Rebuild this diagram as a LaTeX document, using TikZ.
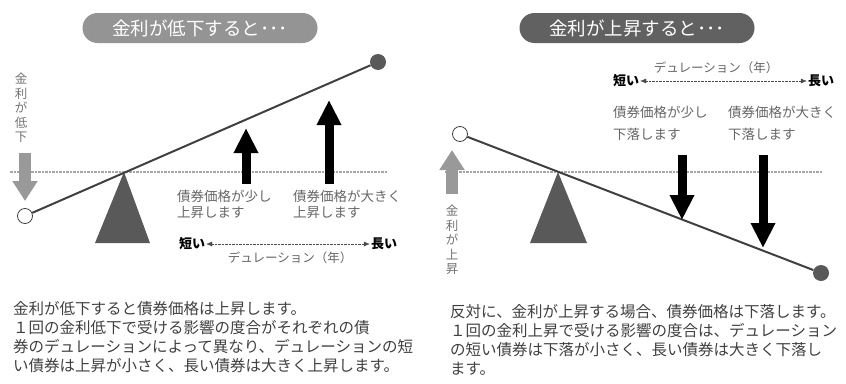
\documentclass[tikz,border=0pt]{standalone}
\usepackage{fontspec}
\newfontfamily\jp{Noto Sans CJK JP}
\usetikzlibrary{positioning,arrows.meta}
\tikzset{node distance=2pt, auto}
\tikzset{
  title/.style={rounded corners=15pt, fill=black!55, text=white, inner sep=0pt,
    minimum width=235pt, minimum height=30pt, font=\jp\fontsize{18.5}{18.5}\selectfont},
  lbl/.style={text=black!60, align=left, inner sep=0pt, anchor=north west,
    font=\jp\fontsize{13.5}{16}\selectfont},
  para/.style={text=black!75, align=left, inner sep=0pt, anchor=north west,
    font=\jp\fontsize{15.5}{19}\selectfont},
  vert/.style={text=black!55, align=center, inner sep=0pt,
    font=\jp\fontsize{12.5}{14.5}\selectfont},
  len/.style={inner sep=1pt, font=\jp\bfseries\fontsize{13}{13}\selectfont},
  dur/.style={text=black!60, inner sep=0pt, font=\jp\fontsize{12.5}{12.5}\selectfont},
  durarrow/.style={black!70, densely dotted, thin,
    {Latex[length=6pt,width=5pt]}-{Latex[length=6pt,width=5pt]}},
  base/.style={black!35, line width=2.5pt, densely dotted},
  beam/.style={black!75, line width=2pt},
  opendot/.style={circle, draw=black!75, thick, fill=white, minimum size=15pt, inner sep=0pt},
  fulldot/.style={circle, fill=black!65, minimum size=16pt, inner sep=0pt},
  fat/.style={line width=9pt, -{Triangle[length=25pt,width=23pt]}},
  rate/.style={black!40, line width=12pt, -{Triangle[length=20pt,width=24pt]}}
}

\begin{document}
\begin{tikzpicture}[x=1pt,y=-1pt]
  \useasboundingbox (0,0) rectangle (846,383);

  % left: rates fall
  \node (T1) [title, fill=black!42] at (200,28) {金利が低下すると･･･};
  \draw [base] (10,172) -- (388,172);
  \fill [black!65] (124,172) -- (95,243) -- (150,243) -- cycle;
  \node (O1) [opendot] at (25,216) {};
  \node (F1) [fulldot] at (378,62) {};
  \draw [beam] (O1) -- (F1);

  \node (V1) [vert] at (21,108) {金\\利\\が\\低\\下};
  \coordinate (R1) at (25,153);
  \coordinate (R1t) at (25,201);
  \draw [rate] (R1) -- (R1t);

  \coordinate (A1) at (246,184);
  \coordinate (A1t) at (246,128);
  \coordinate (A2) at (329,184);
  \coordinate (A2t) at (329,100);
  \draw [fat] (A1) -- (A1t);
  \draw [fat] (A2) -- (A2t);

  \node (L1) [lbl] at (177,190) {債券価格が少し\\上昇します};
  \node (L2) [lbl] at (293,190) {債券価格が大きく\\上昇します};

  \node (S1) [len] at (192,244) {短い};
  \node (G1) [len] at (384,244) {長い};
  \draw [durarrow] (S1) -- (G1);
  \node (D1) [dur] at (290,258) {デュレーション（年）};

  \node (P1) [para] at (13,301) {金利が低下すると債券価格は上昇します。\\
    １回の金利低下で受ける影響の度合がそれぞれの債\\
    券のデュレーションによって異なり、デュレーションの短\\
    い債券は上昇が小さく、長い債券は大きく上昇します。};

  % right: rates rise
  \node (T2) [title, fill=black!62] at (637,28) {金利が上昇すると･･･};
  \draw [base] (445,172) -- (822,172);
  \fill [black!65] (558,172) -- (530,243) -- (587,243) -- cycle;
  \node (O2) [opendot] at (460,134) {};
  \node (F2) [fulldot] at (821,273) {};
  \draw [beam] (O2) -- (F2);

  \node (V2) [vert] at (452,240) {金\\利\\が\\上\\昇};
  \coordinate (R2) at (452,194);
  \coordinate (R2t) at (452,150);
  \draw [rate] (R2) -- (R2t);

  \coordinate (B1) at (682,155);
  \coordinate (B1t) at (682,220);
  \coordinate (B2) at (763,155);
  \coordinate (B2t) at (763,248);
  \draw [fat] (B1) -- (B1t);
  \draw [fat] (B2) -- (B2t);

  \node (L3) [lbl, font=\jp\fontsize{13.5}{22}\selectfont] at (613,106) {債券価格が少し\\下落します};
  \node (L4) [lbl, font=\jp\fontsize{13.5}{22}\selectfont] at (728,106) {債券価格が大きく\\下落します};

  \node (S2) [len] at (626,81) {短い};
  \node (G2) [len] at (821,81) {長い};
  \draw [durarrow] (S2) -- (G2);
  \node (D2) [dur] at (716,68) {デュレーション（年）};

  \node (P2) [para] at (450,304) {反対に、金利が上昇する場合、債券価格は下落します。\\
    １回の金利上昇で受ける影響の度合は、デュレーション\\
    の短い債券は下落が小さく、長い債券は大きく下落し\\
    ます。};
\end{tikzpicture}
\end{document}
